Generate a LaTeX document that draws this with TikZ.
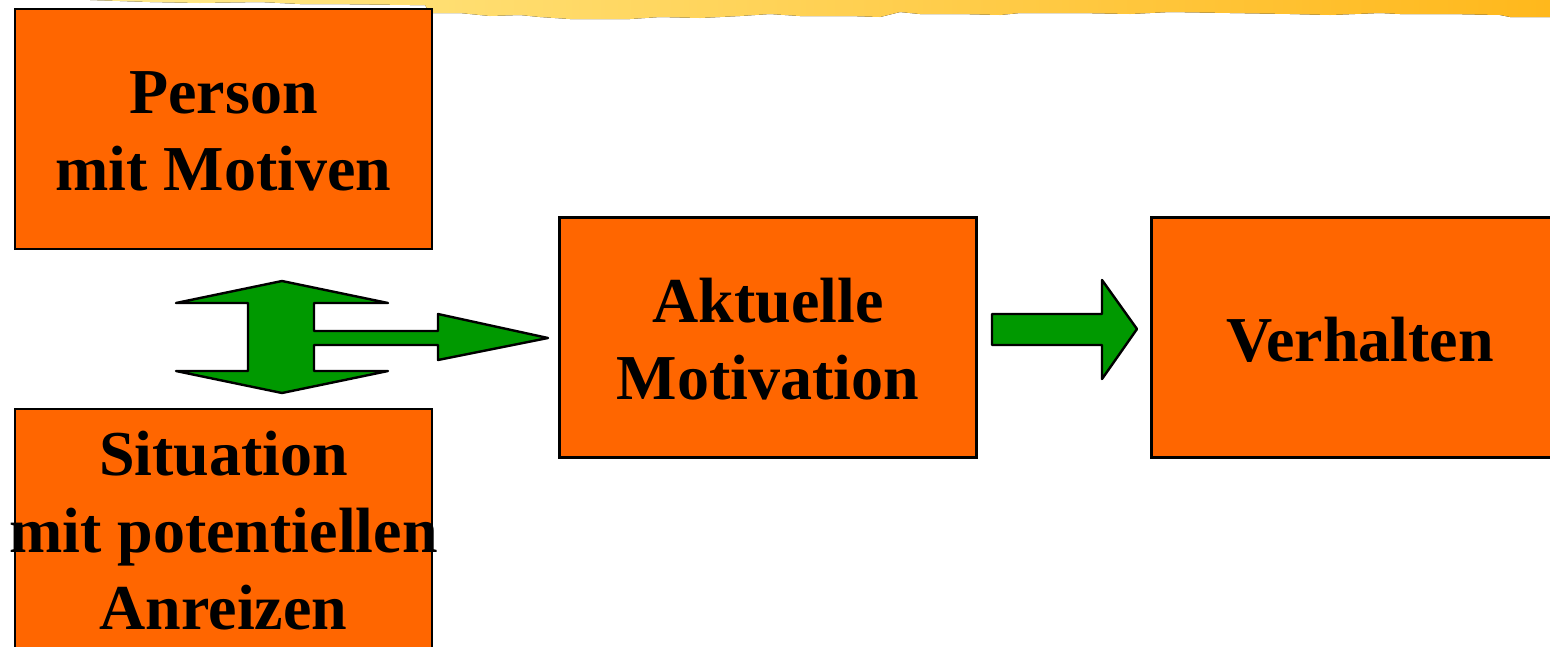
\documentclass[tikz,border=0pt]{standalone}
\usepackage{fontspec}
\setmainfont{Liberation Serif}
\definecolor{boxorange}{RGB}{255,102,0}
\definecolor{arrowgreen}{RGB}{0,153,0}
\definecolor{brushL}{RGB}{255,234,140}
\definecolor{brushR}{RGB}{255,184,28}
\tikzset{
  obox/.style={draw=black, line width=2.2pt, fill=boxorange, rectangle, inner sep=0pt, minimum width=417pt, minimum height=240pt},
  otext/.style={align=center, inner sep=0pt, yshift=-2pt, font=\fontsize{64}{77}\selectfont\bfseries},
  garrow/.style={draw=black, line width=2.4pt, fill=arrowgreen, line join=round}
}
\begin{document}
\begin{tikzpicture}[x=1pt,y=-1pt]
\useasboundingbox (0,0) rectangle (1550,646);
% brush stroke at top
\fill[left color=brushL, right color=brushR]
 (90,0) -- (1550,0) -- (1550,17) -- (1510,17) -- (1500,15) -- (1450,14) -- (1400,14) -- (1380,13) -- (1330,15) -- (1290,14) -- (1230,13) -- (1170,12) -- (1130,14) -- (1080,13) -- (1020,13) -- (1000,15) -- (960,14) -- (920,14) -- (900,12) -- (880,17) -- (850,16) -- (800,16) -- (770,14) -- (740,16) -- (700,18) -- (660,17) -- (630,19) -- (570,19) -- (540,17) -- (520,15) -- (490,16) -- (460,13) -- (430,13) -- (425,5) -- (410,5) -- (330,4) -- (300,4) -- (260,2) -- (200,3) -- (150,2) -- cycle;
% boxes
\node[obox] (person) at (223.5,129) {};
\node[obox] (situation) at (223.5,529) {};
\node[obox] (akt) at (768,337.5) {};
\node[obox] (verh) at (1360,337.5) {};
% texts
\node[otext] (persontxt) at (person.center) {Person\\mit Motiven};
\node[otext] (situationtxt) at (situation.center) {Situation\\mit potentiellen\\Anreizen};
\node[otext] (akttxt) at (akt.center) {Aktuelle\\Motivation};
\node[otext] (verhtxt) at (verh.center) {Verhalten};
% double / branching arrow
\draw[garrow] (282,281) -- (388,303) -- (314,303) -- (314,331) -- (438,331) -- (438,314)
  -- (548,338) -- (438,360) -- (438,345) -- (314,345) -- (314,371) -- (388,371)
  -- (282,393) -- (176,371) -- (248,371) -- (248,303) -- (176,303) -- cycle;
% right arrow
\draw[garrow] (992,314) -- (1102,314) -- (1102,280) -- (1137,329) -- (1102,379)
  -- (1102,345) -- (992,345) -- cycle;
\end{tikzpicture}
\end{document}
